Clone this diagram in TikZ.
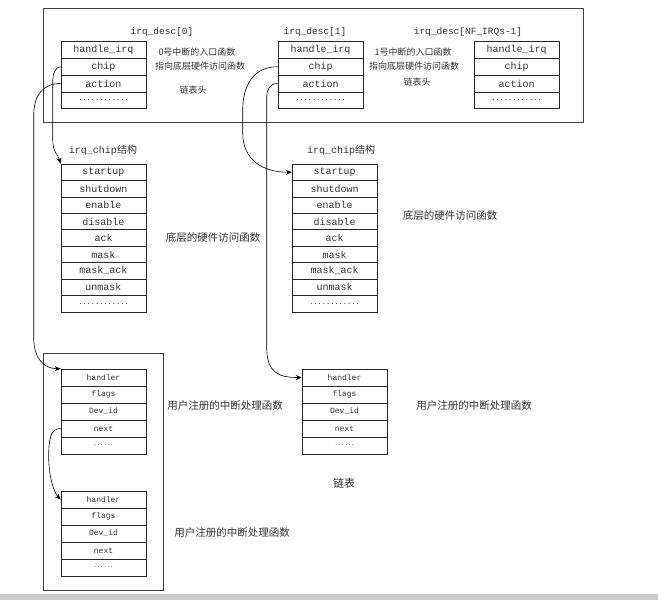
\documentclass[tikz,border=0pt]{standalone}
\usepackage{fontspec}
\setmainfont{Liberation Mono}
\newfontfamily\cjk{Noto Sans CJK SC}
\usetikzlibrary{arrows.meta}

\newcommand\dotrow{{\fontsize{7}{7}\selectfont ............}}
\newcommand\shortdots{{\fontsize{5.5}{5.5}\selectfont ......}}

\begin{document}
\begin{tikzpicture}[x=1pt, y=-1pt,
	cell/.style={draw=black!85, line width=0.6pt, minimum width=85pt,
		minimum height=16.7pt, inner sep=0pt, text=black!80,
		font=\fontsize{10}{11}\selectfont},
	chipcell/.style={cell, minimum height=16.44pt},
	actcell/.style={cell, minimum height=17pt, font=\fontsize{8}{9}\selectfont},
	note/.style={text=black!80, font=\cjk\fontsize{9}{10}\selectfont},
	bignote/.style={text=black!80, font=\cjk\fontsize{10.5}{12}\selectfont},
	title/.style={text=black!80, font=\fontsize{9.5}{10}\selectfont},
	frame/.style={draw=black!75, line width=0.7pt},
	link/.style={line width=0.6pt, -{Stealth[length=6pt, width=5pt]}}]

\def\rowh{16.7}
\def\chiph{16.44}
\def\acth{17}

\path [use as bounding box, fill=white] (0,0) rectangle (658,600);
\fill [black!20] (0,594) rectangle (658,600);

% FRAMES
\draw [frame] (43,8) rectangle (583,122);
\draw [frame] (43,353) rectangle (163,590);

% IRQ_DESC ARRAY
\foreach \n/\cx in {0/103.5, 1/320.5, 2/516.5}
	\foreach [count=\i] \t in {handle\_irq, chip, action, \dotrow}
		\node [cell] (d\n-\i) at (\cx, {41.7 + (\i-0.5)*\rowh}) {\t};

\node [title] (t0) at (162,32) {irq\_desc[0]};
\node [title] (t1) at (315,32) {irq\_desc[1]};
\node [title] (t2) at (468,32) {irq\_desc[NF\_IRQs-1]};

\node [note] (n0a) at (197,52) {0号中断的入口函数};
\node [note] (n0b) at (200,66) {指向底层硬件访问函数};
\node [note] (n0c) at (193,90) {链表头};
\node [note] (n1a) at (413,52) {1号中断的入口函数};
\node [note] (n1b) at (414,66) {指向底层硬件访问函数};
\node [note] (n1c) at (417,82) {链表头};

% IRQ_CHIP
\foreach \n/\cx in {0/103.5, 1/334.5}
	\foreach [count=\i] \t in {startup, shutdown, enable, disable, ack, mask,
			mask\_ack, unmask, \dotrow}
		\node [chipcell] (c\n-\i) at (\cx, {164 + (\i-0.5)*\chiph}) {\t};

\node [title, font=\fontsize{10}{11}\selectfont] (ct0) at (103,150) {irq\_chip{\cjk 结构}};
\node [title, font=\fontsize{10}{11}\selectfont] (ct1) at (341,150) {irq\_chip{\cjk 结构}};
\node [bignote] (cn0) at (213,238) {底层的硬件访问函数};
\node [bignote] (cn1) at (450,216) {底层的硬件访问函数};

% IRQACTION
\foreach \n/\cx/\top in {1/103.5/369, 2/103.5/491, 3/344.5/369}
	\foreach [count=\i] \t in {handler, flags, Dev\_id, next, \shortdots}
		\node [actcell] (h\n-\i) at (\cx, {\top + (\i-0.5)*\acth}) {\t};

\node [bignote] (hn1) at (225,406) {用户注册的中断处理函数};
\node [bignote] (hn2) at (232,533) {用户注册的中断处理函数};
\node [bignote] (hn3) at (474,406) {用户注册的中断处理函数};
\node [bignote, font=\cjk\fontsize{11}{12}\selectfont] (list) at (344,483) {链表};

% LINKS
\draw [link] (d0-2.west) .. controls +(-6,0) and +(0,-8) .. ++(-8,16)
	-- ++(0,56) .. controls +(0,14) and +(-3,-10) .. (c0-1.north west);
\draw [link] (d0-3.west) .. controls +(-18,0) and +(0,-20) .. ++(-27,32)
	-- ++(0,222) .. controls +(0,22) and +(-16,0) .. (h1-1.north west);
\draw [link] (d1-2.west) .. controls +(-24,0) and +(0,-26) .. ++(-35,44)
	-- ++(0,22) .. controls +(0,28) and +(-28,0) .. (c1-1.west);
\draw [link] (d1-3.west) .. controls +(-8,0) and +(0,-8) .. ++(-11,14)
	-- ++(0,250) .. controls +(0,26) and +(-22,0) .. (h3-1.west);
\draw [link] (h1-4.west) .. controls +(-10,0) and +(0,-18) .. ++(-12,28)
	.. controls +(0,22) and +(-6,-6) .. (h2-1.west);

\end{tikzpicture}
\end{document}
